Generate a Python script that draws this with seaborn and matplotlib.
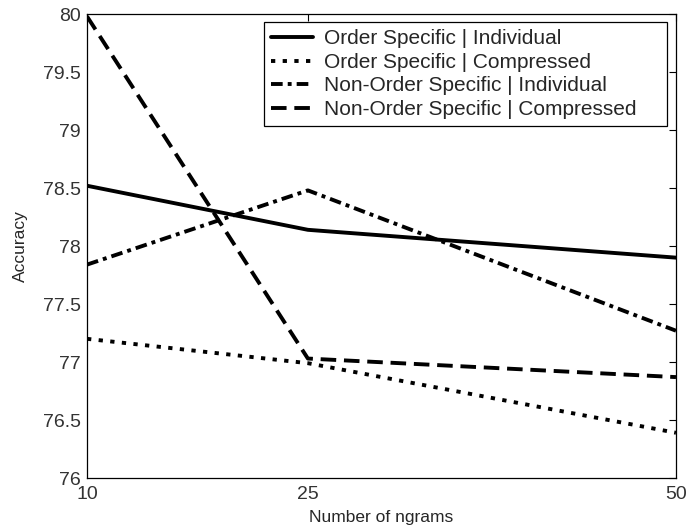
import pandas as pd
import numpy as np
import seaborn as sns
import matplotlib.pyplot as plt

ngrams = [10, 25, 50]
os_individual  = [78.52, 78.14, 77.90]
os_compressed  = [77.20, 76.99, 76.39]
nos_individual = [77.84, 78.48, 77.27]
nos_compressed = [79.98, 77.03, 76.87]

series_names = ["Order Specific | Individual",
                "Order Specific | Compressed",
                "Non-Order Specific | Individual",
                "Non-Order Specific | Compressed"]
yticks = [76, 76.5, 77, 77.5, 78, 78.5, 79, 79.5, 80]
ytick_labels = ["76", "76.5", "77", "77.5", "78", "78.5", "79", "79.5", "80"]

rows = []
for name, vals in zip(series_names, [os_individual, os_compressed, nos_individual, nos_compressed]):
    for x, v in zip(ngrams, vals):
        rows.append({"ngrams": x, "Accuracy": v, "series": name})
df = pd.DataFrame(rows)

sns.set_style("white")
plt.rcParams['font.family'] = ['Liberation Sans', 'DejaVu Sans']

fig = plt.figure(figsize=(6.88, 5.32), dpi=100)
ax = fig.add_axes([0.1265, 0.1015, 0.856, 0.872])

dashes = {series_names[0]: "",
          series_names[1]: (1.1, 1.9),
          series_names[2]: (3.0, 1.3, 1.0, 1.3),
          series_names[3]: (4.0, 2.0)}
palette = {n: "black" for n in series_names}

sns.lineplot(data=df, x="ngrams", y="Accuracy", hue="series", style="series",
             dashes=dashes, palette=palette, linewidth=2.8, ax=ax,
             hue_order=series_names, style_order=series_names)

ax.set_xlim(10, 50)
ax.set_ylim(76, 80)
ax.set_xticks(ngrams)
ax.set_xticklabels([str(n) for n in ngrams], fontsize=14)
ax.set_yticks(yticks)
ax.set_yticklabels(ytick_labels, fontsize=14)
ax.tick_params(direction="in", length=5, width=0.8, top=True, right=True,
               colors="black", labelcolor="#333333")
ax.tick_params(axis="x", pad=6)
ax.tick_params(axis="y", pad=4.5)
for sp in ax.spines.values():
    sp.set_visible(True)
    sp.set_color("black")
    sp.set_linewidth(0.9)

ax.set_xlabel("Number of ngrams", fontsize=12.5, labelpad=5)
ax.set_ylabel("Accuracy", fontsize=12.5, labelpad=11)

# MATLAB-style legend box leaves extra room on the right
handles, labels = ax.get_legend_handles_labels()
labels = [lab + "    " for lab in labels]
leg = ax.legend(handles, labels, loc="upper right", bbox_to_anchor=(0.985, 0.983),
                borderaxespad=0, fontsize=15, frameon=True, fancybox=False,
                handlelength=2.0, labelspacing=0.22, handletextpad=0.55, borderpad=0.35)
leg.get_frame().set_edgecolor("black")
leg.get_frame().set_linewidth(0.9)
leg.get_frame().set_alpha(1)

fig.savefig("out.png", dpi=100)
